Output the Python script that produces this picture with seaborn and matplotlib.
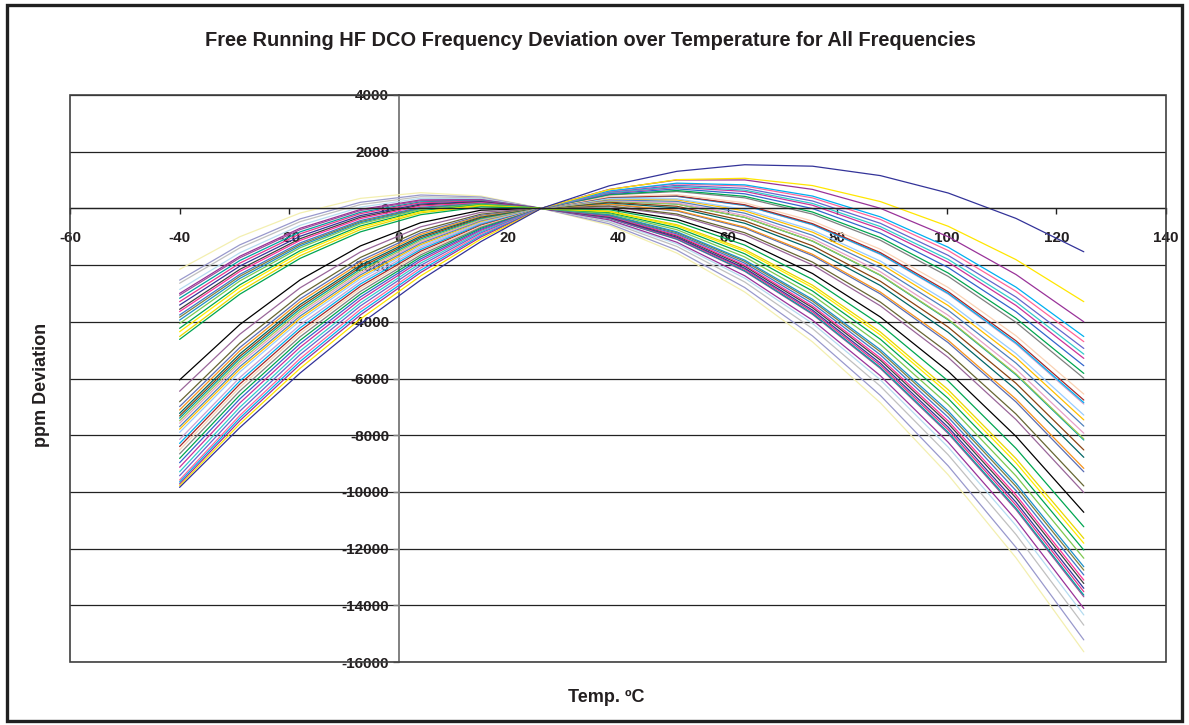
import matplotlib
matplotlib.use("Agg")
import matplotlib.pyplot as plt
import pandas as pd
import seaborn as sns
from matplotlib.patches import Rectangle

# Temperatures (deg C) at which each frequency curve is read
temps = [-40, -29, -18, -7, 4, 15, 26, 38.375, 50.75, 63.125, 75.5, 87.875, 100.25, 112.625, 125]

# ppm deviation of every curve at each temperature (same curve order in every list)
ppm_m40 = [-2150, -2530, -2640, -2860, -3000, -3060, -3170, -3290, -3410, -3560,
           -3640, -3760, -3840, -3940, -4060, -4230, -4350, -4520, -4620,
           -6050, -6450, -6820, -6990, -7110, -7230, -7320, -7400, -7490, -7580,
           -7700, -7790, -7900, -8150, -8290, -8400, -8520, -8660, -8820, -8970,
           -9130, -9290, -9430, -9580, -9650, -9720, -9780, -9840]
ppm_m29 = [-998, -1285, -1392, -1565, -1687, -1742, -1838, -1931, -2034, -2150,
           -2222, -2327, -2394, -2470, -2559, -2694, -2791, -2925, -3026,
           -4096, -4437, -4750, -4906, -5019, -5131, -5219, -5300, -5387, -5475,
           -5581, -5668, -5768, -5962, -6087, -6194, -6306, -6437, -6581, -6719,
           -6863, -7013, -7150, -7300, -7394, -7488, -7600, -7729]
ppm_m18 = [-163, -370, -467, -597, -700, -748, -827, -896, -982, -1067,
           -1129, -1216, -1270, -1325, -1388, -1491, -1566, -1667, -1762,
           -2521, -2800, -3053, -3190, -3290, -3390, -3470, -3547, -3627, -3707,
           -3797, -3877, -3963, -4107, -4213, -4310, -4410, -4527, -4650, -4770,
           -4893, -5027, -5153, -5293, -5397, -5500, -5640, -5806]
ppm_m7 = [354, 216, 135, 43, -37, -76, -138, -185, -252, -310,
          -360, -428, -469, -506, -547, -620, -674, -745, -827,
          -1323, -1537, -1730, -1841, -1924, -2006, -2074, -2140, -2207, -2275,
          -2346, -2413, -2483, -2582, -2667, -2749, -2831, -2927, -3026, -3124,
          -3223, -3333, -3440, -3560, -3659, -3758, -3900, -4072]
ppm_p4 = [554, 473, 413, 356, 300, 272, 230, 201, 155, 120,
          84, 37, 10, -12, -35, -81, -116, -160, -222,
          -504, -650, -780, -860, -920, -980, -1030, -1080, -1130, -1180,
          -1230, -1280, -1330, -1390, -1450, -1510, -1570, -1640, -1710, -1780,
          -1850, -1930, -2010, -2100, -2180, -2260, -2380, -2526]
ppm_p15 = [436, 401, 368, 342, 312, 297, 276, 262, 239, 223,
           204, 180, 166, 157, 147, 126, 109, 88, 54,
           -63, -137, -203, -246, -279, -311, -339, -367, -394, -422,
           -448, -475, -502, -529, -561, -594, -626, -664, -701, -739,
           -776, -819, -863, -913, -960, -1008, -1080, -1169]
ppm_p26 = [0, 0, 0, 0, 0, 0, 0, 0, 0, 0,
           0, 0, 0, 0, 0, 0, 0, 0, 0,
           0, 0, 0, 0, 0, 0, 0, 0, 0, 0,
           0, 0, 0, 0, 0, 0, 0, 0, 0, 0,
           0, 0, 0, 0, 0, 0, 0, 0]
ppm_p38 = [-594, -542, -477, -432, -403, -352, -344, -329, -314, -293,
           -278, -256, -234, -219, -182, -145, -115, -94, -43,
           -1, 66, 89, 141, 151, 194, 221, 259, 259, 279,
           305, 332, 348, 392, 392, 398, 419, 473, 489, 518,
           544, 558, 578, 603, 614, 669, 661, 795]
ppm_p51 = [-1577, -1472, -1342, -1252, -1194, -1092, -1077, -1047, -1017, -974,
           -944, -900, -857, -827, -752, -679, -619, -577, -474,
           -384, -245, -197, -90, -69, 19, 75, 153, 154, 195,
           248, 303, 337, 425, 428, 441, 485, 597, 631, 689,
           744, 773, 814, 865, 891, 1003, 1015, 1308]
ppm_p63 = [-2949, -2791, -2596, -2461, -2375, -2221, -2199, -2154, -2109, -2045,
           -2000, -1933, -1869, -1824, -1711, -1602, -1512, -1449, -1295,
           -1150, -932, -858, -693, -660, -525, -439, -319, -315, -252,
           -169, -87, -34, 100, 106, 129, 197, 372, 425, 515,
           600, 645, 709, 788, 831, 1004, 1063, 1540]
ppm_p76 = [-4709, -4499, -4239, -4059, -3944, -3739, -3709, -3649, -3589, -3504,
           -3444, -3354, -3269, -3209, -3059, -2914, -2794, -2709, -2504,
           -2298, -1996, -1894, -1668, -1620, -1438, -1320, -1157, -1149, -1062,
           -949, -839, -766, -583, -571, -538, -445, -202, -129, -6,
           111, 174, 262, 370, 435, 670, 805, 1489]
ppm_p88 = [-6859, -6596, -6271, -6046, -5902, -5646, -5609, -5534, -5459, -5352,
           -5277, -5165, -5059, -4984, -4796, -4615, -4465, -4359, -4102,
           -3830, -3437, -3305, -3016, -2952, -2720, -2569, -2361, -2348, -2235,
           -2089, -1952, -1857, -1625, -1606, -1560, -1440, -1125, -1030, -873,
           -723, -640, -526, -388, -299, 3, 241, 1157]
ppm_p100 = [-9397, -9082, -8692, -8422, -8249, -7942, -7897, -7807, -7717, -7589,
            -7499, -7365, -7237, -7147, -6922, -6704, -6524, -6397, -6089,
            -5744, -5255, -5092, -4735, -4654, -4371, -4185, -3932, -3911, -3770,
            -3592, -3427, -3308, -3025, -2997, -2938, -2790, -2398, -2279, -2086,
            -1901, -1797, -1656, -1485, -1369, -998, -630, 543]
ppm_p113 = [-12324, -11957, -11502, -11187, -10985, -10627, -10574, -10469, -10364, -10215,
            -10110, -9953, -9804, -9699, -9437, -9183, -8973, -8824, -8465,
            -8041, -7449, -7253, -6827, -6727, -6391, -6169, -5868, -5838, -5669,
            -5455, -5262, -5119, -4783, -4745, -4671, -4493, -4019, -3876, -3645,
            -3424, -3297, -3127, -2923, -2777, -2332, -1807, -353]
ppm_p125 = [-15640, -15220, -14700, -14340, -14110, -13700, -13640, -13520, -13400, -13230,
            -13110, -12930, -12760, -12640, -12340, -12050, -11810, -11640, -11230,
            -10720, -10020, -9790, -9290, -9170, -8780, -8520, -8170, -8130, -7930,
            -7680, -7460, -7290, -6900, -6850, -6760, -6550, -5990, -5820, -5550,
            -5290, -5140, -4940, -4700, -4520, -4000, -3290, -1530]

line_colors = ['#F3EFB0', '#9999CC', '#C0C0C0', '#B4DCF0', '#993399', '#A0509B',
               '#00A0A0', '#E6378C', '#333399', '#404040', '#FF3399', '#3C78C8',
               '#808040', '#1E90C8', '#7DC850', '#00A651', '#FFEB00', '#E8D800',
               '#00A651',
               '#000000', '#996699', '#666633', '#5B6FB5', '#F7941D', '#006666',
               '#8B4513', '#00A0A0', '#A0C850', '#E6A0C8', '#4F81BD', '#FFC000',
               '#99CCFF', '#C8A0D2', '#00B0F0', '#A52A2A', '#FAD2B4', '#808080',
               '#00A651', '#3366CC', '#CC3399', '#33CCCC', '#6666CC', '#FF6699',
               '#00B0F0', '#993399', '#FFE600', '#333399']

title = "Free Running HF DCO Frequency Deviation over Temperature for All Frequencies"
x_label = "Temp. \u00baC"
y_label = "ppm Deviation"
x_ticks = [-60, -40, -20, 0, 20, 40, 60, 80, 100, 120, 140]
y_ticks = [4000, 2000, 0, -2000, -4000, -6000, -8000, -10000, -12000, -14000, -16000]

columns = [ppm_m40, ppm_m29, ppm_m18, ppm_m7, ppm_p4, ppm_p15, ppm_p26, ppm_p38,
           ppm_p51, ppm_p63, ppm_p76, ppm_p88, ppm_p100, ppm_p113, ppm_p125]
records = []
for i in range(len(ppm_m40)):
    for t, col in zip(temps, columns):
        records.append({"temp": t, "ppm": col[i], "curve": f"F{i + 1:02d}"})
df = pd.DataFrame(records)

sns.set_style("white")
plt.rcParams["font.family"] = ["Liberation Sans", "DejaVu Sans"]
plt.rcParams["axes.unicode_minus"] = False

fig = plt.figure(figsize=(11.89, 7.25), dpi=100)
ax = fig.add_axes([70 / 1189, 1 - 662 / 725, 1096 / 1189, 567 / 725])

# horizontal gridlines
for yv in y_ticks:
    ax.axhline(yv, color="#222222", lw=0.9, zorder=0.5)

sns.lineplot(data=df, x="temp", y="ppm", hue="curve", palette=line_colors,
             estimator=None, sort=False, legend=False, lw=0.9, ax=ax, zorder=2)

ax.set_xlim(-60, 140)
ax.set_ylim(-16000, 4000)
ax.set_xticks(x_ticks)
ax.set_yticks(y_ticks)
ax.set_xticklabels([str(v) for v in x_ticks])
ax.set_yticklabels([str(v) for v in y_ticks])
ax.set_xlabel("")
ax.set_ylabel("")
ax.grid(False)

ax.spines["left"].set_position(("data", 0))
ax.spines["bottom"].set_position(("data", 0))
ax.spines["left"].set_color("#808080")
ax.spines["left"].set_linewidth(1.4)
ax.spines["bottom"].set_color("#222222")
ax.spines["bottom"].set_linewidth(0.9)
ax.spines["top"].set_visible(False)
ax.spines["right"].set_visible(False)
ax.spines["left"].set_zorder(1)

ax.tick_params(axis="y", direction="out", length=4, width=1, color="#808080",
               pad=3, labelsize=11, left=True)
ax.tick_params(axis="x", direction="out", length=4, width=1, color="#222222",
               pad=12, labelsize=11, bottom=True)
for lbl in ax.get_xticklabels() + ax.get_yticklabels():
    lbl.set_fontweight("bold")
    lbl.set_color("#231F20")

# plot-area border
ax.add_patch(Rectangle((0, 0), 1, 1, transform=ax.transAxes, fill=False,
                       ec="#404040", lw=1.2, clip_on=False, zorder=5))

# outer chart frame
fig.add_artist(Rectangle((7 / 1189, 4.5 / 725), 1175 / 1189, 716 / 725,
                         transform=fig.transFigure, fill=False, ec="#202020", lw=2.4))

fig.text(590 / 1189, 1 - 40 / 725, title, ha="center", va="center",
         fontsize=14.4, fontweight="bold", color="#231F20")
fig.text(606 / 1189, 1 - 697 / 725, x_label, ha="center", va="center",
         fontsize=13, fontweight="bold", color="#231F20")
fig.text(42 / 1189, 1 - 385 / 725, y_label, ha="center", va="center",
         rotation=90, fontsize=13, fontweight="bold", color="#231F20")

fig.savefig("out.png", dpi=100)
